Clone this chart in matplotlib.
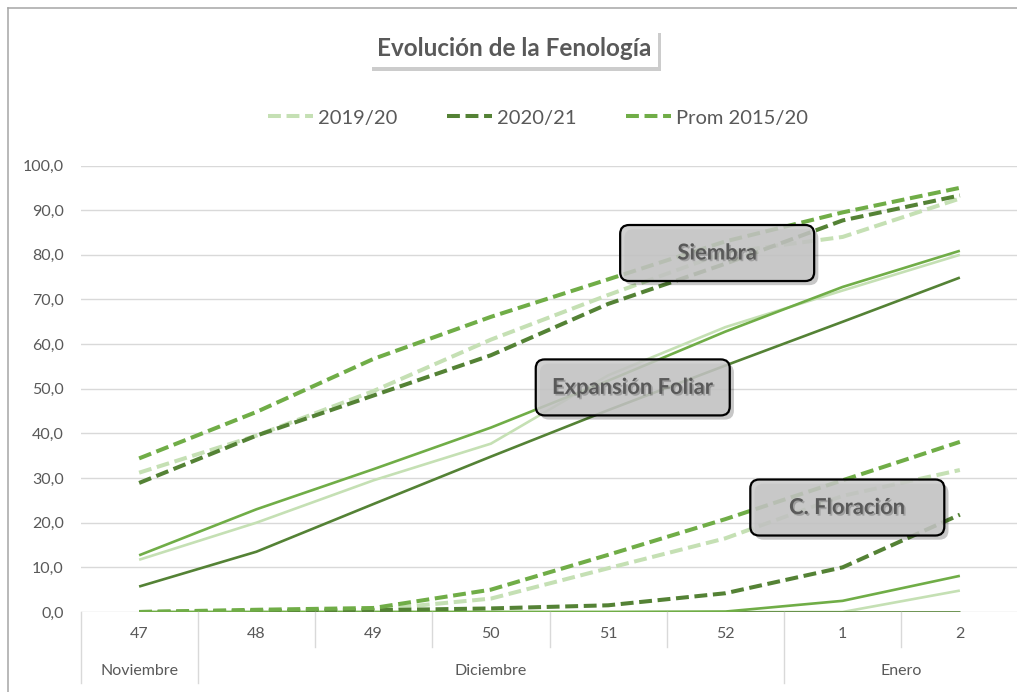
import matplotlib.pyplot as plt
import matplotlib.patheffects as pe
from matplotlib.patches import FancyBboxPatch
from matplotlib.lines import Line2D
from matplotlib.ticker import FuncFormatter
from matplotlib.transforms import ScaledTranslation, blended_transform_factory

plt.rcParams['font.family'] = ['Lato', 'DejaVu Sans']

# semanas del eje x y meses que las agrupan
semanas = ['47', '48', '49', '50', '51', '52', '1', '2']
meses = ['Noviembre', 'Diciembre', 'Enero']
meses_ini = [0, 1, 6]
meses_fin = [0, 5, 7]

anios = ['2019/20', '2020/21', 'Prom 2015/20']
colores = ['#C5E0B4', '#548235', '#70AD47']

# Siembra (discontinua)
siembra_1920 = [31.2, 39.5, 49.5, 61.0, 71.0, 80.5, 84.0, 92.6]
siembra_2021 = [28.9, 39.5, 48.5, 57.5, 69.0, 78.0, 87.7, 93.3]
siembra_prom = [34.4, 44.8, 56.7, 66.1, 74.5, 83.0, 89.5, 95.0]

# Expansion foliar (continua)
foliar_1920 = [11.7, 20.0, 29.5, 37.7, 53.0, 63.8, 72.0, 80.0]
foliar_2021 = [5.7, 13.5, 24.2, 34.8, 45.2, 55.2, 65.0, 74.9]
foliar_prom = [12.7, 23.0, 32.0, 41.3, 51.8, 62.8, 72.8, 80.9]

# C. floracion (discontinua)
floracion_1920 = [0.0, 0.2, 0.5, 3.0, 9.8, 16.5, 26.0, 31.8]
floracion_2021 = [0.0, 0.2, 0.4, 0.8, 1.5, 4.2, 10.0, 21.8]
floracion_prom = [0.0, 0.5, 0.9, 5.0, 12.8, 20.8, 29.5, 38.1]

# tramo inferior sin rotulo en el original (continua)
otra_1920 = [0.0, 0.0, 0.0, 0.0, 0.0, 0.0, 0.0, 4.8]
otra_2021 = [0.0, 0.0, 0.0, 0.0, 0.0, 0.0, 0.0, 0.0]
otra_prom = [0.0, 0.0, 0.0, 0.0, 0.0, 0.1, 2.5, 8.1]

rotulos = ['Siembra', 'Expansión Foliar', 'C. Floración']
rotulo_x = [4.93, 4.21, 6.04]
rotulo_y = [80.4, 50.3, 23.4]

gris = '#595959'
W, H = 1017, 692

fig = plt.figure(figsize=(W / 100, H / 100), dpi=100)
ax = fig.add_axes([80.5 / W, 1 - 612 / H, 938 / W, 446.5 / H])
x = list(range(len(semanas)))

disc = dict(lw=2.9, linestyle=(0, (3.2, 1.4)), dash_capstyle='butt')
cont = dict(lw=1.9, linestyle='-', solid_capstyle='butt')

for grupo, estilo in [([otra_1920, otra_2021, otra_prom], cont),
                      ([floracion_1920, floracion_2021, floracion_prom], disc),
                      ([foliar_1920, foliar_2021, foliar_prom], cont),
                      ([siembra_1920, siembra_2021, siembra_prom], disc)]:
    for serie, color in zip(grupo, colores):
        ax.plot(x, serie, color=color, **estilo)

ax.set_yticks(range(0, 101, 10))
ax.yaxis.set_major_formatter(FuncFormatter(lambda v, p: f'{v:.1f}'.replace('.', ',')))
ax.yaxis.grid(True, color='#d9d9d9', lw=1)
ax.set_axisbelow(True)
for s in ax.spines.values():
    s.set_visible(False)
ax.tick_params(axis='y', length=0, pad=12, labelsize=11.5, labelcolor=gris)
ax.set_xticks(x, semanas)
ax.tick_params(axis='x', length=0, pad=11, labelsize=11.5, labelcolor=gris)

# separadores del eje de categorias
tr = blended_transform_factory(ax.transData, ax.transAxes)
bordes_mes = [meses_ini[0] - 0.5] + [f + 0.5 for f in meses_fin]
for b in [i - 0.5 for i in range(len(semanas) + 1)]:
    largo = -0.159 if b in bordes_mes else -0.078
    ax.plot([b, b], [0, largo], transform=tr, color='#d9d9d9', lw=1, clip_on=False)
for m, i0, i1 in zip(meses, meses_ini, meses_fin):
    ax.text((i0 + i1) / 2, -0.132, m, transform=tr, ha='center', va='center',
            fontsize=11.5, color=gris)

# cuadros de rotulos
for txt, xc, yc in zip(rotulos, rotulo_x, rotulo_y):
    t = fig.dpi_scale_trans + ScaledTranslation(xc, yc, ax.transData)
    caja = FancyBboxPatch((-0.97, -0.28), 1.94, 0.56,
                          boxstyle='round,pad=0,rounding_size=0.09',
                          fc=(0.79, 0.79, 0.79, 0.85), ec='black', lw=1.6,
                          transform=t, clip_on=False, zorder=5)
    caja.set_path_effects([pe.withSimplePatchShadow(offset=(3, -3), shadow_rgbFace='black', alpha=0.22)])
    ax.add_patch(caja)
    ax.text(xc, yc, txt, ha='center', va='center', fontsize=15.8, fontweight='bold',
            color=gris, zorder=6,
            path_effects=[pe.withSimplePatchShadow(offset=(1.2, -1.2), shadow_rgbFace='black', alpha=0.2)])
ax.set_xlim(-0.5, len(semanas) - 0.5)
ax.set_ylim(0, 100)

# leyenda
manejadores = [Line2D([], [], color=c, **disc) for c in colores]
fig.legend(manejadores, anios, loc='center', bbox_to_anchor=(538 / W, 1 - 118 / H),
           ncol=3, frameon=False, fontsize=14.5, handlelength=2.2, columnspacing=2.5,
           handletextpad=0.25, labelcolor=gris)

# titulo
tt = fig.text(514 / W, 1 - 48 / H, 'Evolución de la Fenología', ha='center', va='center',
              fontsize=17.5, fontweight='bold', color=gris,
              bbox=dict(boxstyle='square,pad=0.3', fc='white', ec='none'))
tt.get_bbox_patch().set_path_effects([pe.withSimplePatchShadow(offset=(2, -3), shadow_rgbFace='black', alpha=0.2)])

# borde del area del grafico
fig.add_artist(Line2D([8 / W, 8 / W], [0, 1 - 8 / H], transform=fig.transFigure, color='#a6a6a6', lw=1.1))
fig.add_artist(Line2D([8 / W, 1], [1 - 8 / H, 1 - 8 / H], transform=fig.transFigure, color='#a6a6a6', lw=1.1))

fig.savefig('out.png', dpi=100)
